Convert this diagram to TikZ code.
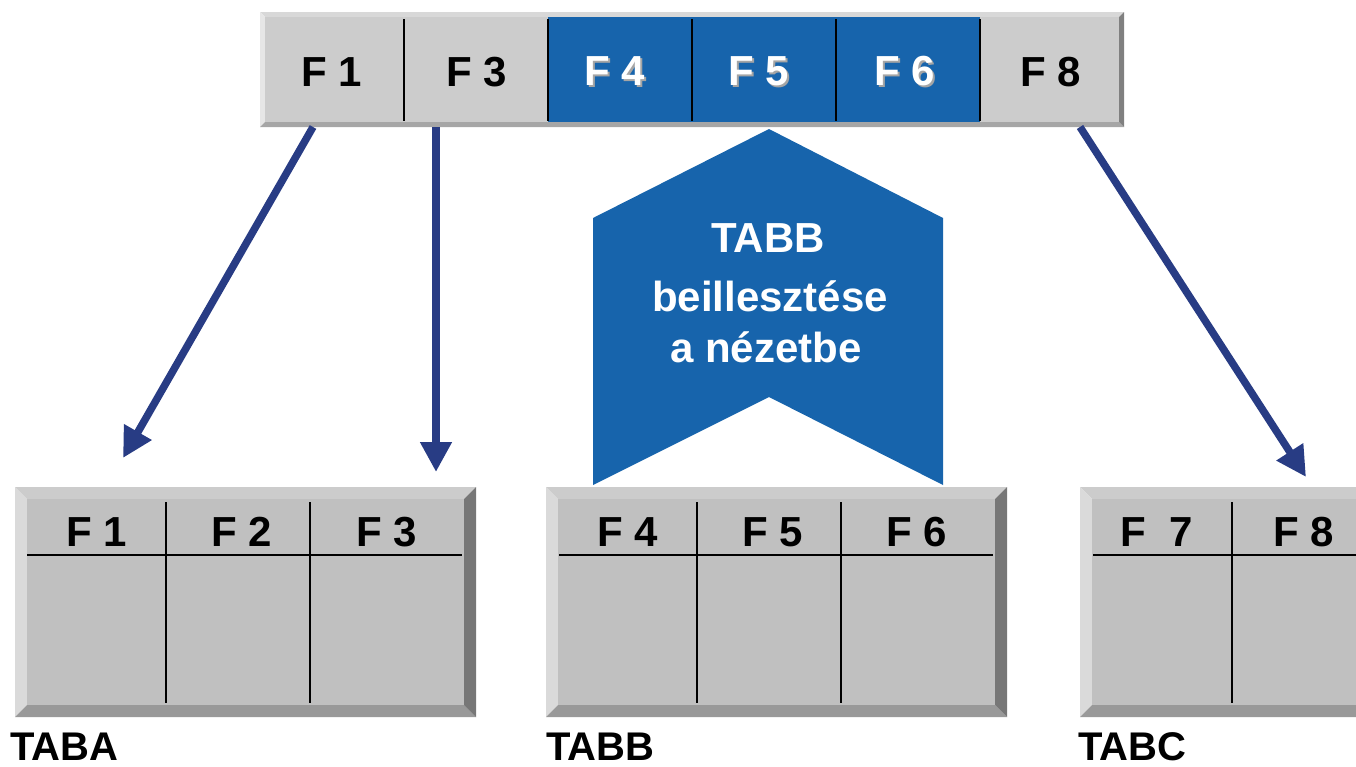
\documentclass[tikz,border=0pt]{standalone}
\usepackage{fontspec}
\setmainfont{Liberation Sans}
\usetikzlibrary{arrows.meta}

\definecolor{tabblue}{RGB}{23,100,172}
\definecolor{arrowblue}{RGB}{40,60,132}
\definecolor{barface}{RGB}{204,204,204}
\definecolor{bartop}{RGB}{216,216,216}
\definecolor{barleft}{RGB}{230,230,230}
\definecolor{barbottom}{RGB}{166,166,166}
\definecolor{barright}{RGB}{128,128,128}
\definecolor{tabface}{RGB}{192,192,192}
\definecolor{tabtop}{RGB}{204,204,204}
\definecolor{tableft}{RGB}{218,218,218}
\definecolor{tabbottom}{RGB}{153,153,153}
\definecolor{tabright}{RGB}{119,119,119}
\definecolor{shadowgray}{RGB}{165,165,165}

% white text with a grey drop shadow
\newcommand{\shadowed}[1]{\rlap{\kern2pt\raisebox{-2pt}{\color{shadowgray}#1}}#1}

% raised box: x1, y1 (top left), x2, y2 (bottom right), bevel, colour prefix
\newcommand{\bevelbox}[6]{%
  \fill[#6top] (#1,#2) -- (#3,#2) -- (#3-#5,#2+#5) -- (#1+#5,#2+#5) -- cycle;
  \fill[#6left] (#1,#2) -- (#1+#5,#2+#5) -- (#1+#5,#4-#5) -- (#1,#4) -- cycle;
  \fill[#6bottom] (#1,#4) -- (#1+#5,#4-#5) -- (#3-#5,#4-#5) -- (#3,#4) -- cycle;
  \fill[#6right] (#3,#2) -- (#3,#4) -- (#3-#5,#4-#5) -- (#3-#5,#2+#5) -- cycle;
  \fill[#6face] (#1+#5,#2+#5) rectangle (#3-#5,#4-#5);
}

\tikzset{
  cell/.style={font=\fontsize{42}{50}\selectfont\bfseries, inner sep=0pt},
  bluecell/.style={cell, text=white},
  inserttext/.style={cell, text=white, anchor=base},
  tabname/.style={font=\fontsize{40}{48}\selectfont\bfseries, inner sep=0pt, anchor=base west},
  tabline/.style={line width=1.3pt},
  feed/.style={line width=7.5pt, draw=arrowblue, -{Triangle[length=30pt,width=30pt]}}
}

\begin{document}
\begin{tikzpicture}[x=1pt, y=-1pt]
  \clip (0,0) rectangle (1356,766);

  % Fields of the view
  \bevelbox{260}{12}{1124}{127}{5}{bar}
  \fill[tabblue] (548,17) rectangle (980,122);
  \foreach \x in {404,548,692,836,980}
    \draw[tabline] (\x,19) -- (\x,121);
  \node[cell] (c1) at (332,72) {F 1};
  \node[cell] (c3) at (477,72) {F 3};
  \node[bluecell] (c4) at (615,72) {\shadowed{F 4}};
  \node[bluecell] (c5) at (759,72) {\shadowed{F 5}};
  \node[bluecell] (c6) at (905,72) {\shadowed{F 6}};
  \node[cell] (c8) at (1051,72) {F 8};

  % Insert arrow
  \fill[tabblue] (769,129) -- (943,218) -- (943,485) -- (769,397)
    -- (593,485) -- (593,218) -- cycle;
  \node[inserttext] (ins1) at (768,252) {TABB};
  \node[inserttext] (ins2) at (770,311) {beillesztése};
  \node[inserttext] (ins3) at (766,362) {a nézetbe};

  % TABA
  \bevelbox{15}{487}{476}{717}{12}{tab}
  \draw[tabline] (27,555) -- (462,555);
  \foreach \x in {166,310}
    \draw[tabline] (\x,502) -- (\x,703);
  \node[cell] (a1) at (97,532) {F 1};
  \node[cell] (a2) at (242,532) {F 2};
  \node[cell] (a3) at (387,532) {F 3};
  \node[tabname] (taba) at (10,760) {TABA};

  % TABB
  \bevelbox{546}{487}{1007}{717}{12}{tab}
  \draw[tabline] (559,555) -- (993,555);
  \foreach \x in {697,841}
    \draw[tabline] (\x,502) -- (\x,703);
  \node[cell] (b4) at (628,532) {F 4};
  \node[cell] (b5) at (773,532) {F 5};
  \node[cell] (b6) at (917,532) {F 6};
  \node[tabname] (tabb) at (546,760) {TABB};

  % TABC
  \bevelbox{1080}{487}{1384}{717}{12}{tab}
  \draw[tabline] (1093,555) -- (1372,555);
  \draw[tabline] (1232,502) -- (1232,703);
  \node[cell] (k7) at (1157,532) {F\ \ 7};
  \node[cell] (k8) at (1304,532) {F 8};
  \node[tabname] (tabc) at (1078,760) {TABC};

  % Arrows
  \coordinate (f1) at (313,127);
  \coordinate (t1) at (123,458);
  \coordinate (f3) at (436,127);
  \coordinate (t3) at (436,472);
  \coordinate (f8) at (1080,127);
  \coordinate (t8) at (1306,477);
  \draw[feed] (f1) -- (t1);
  \draw[feed] (f3) -- (t3);
  \draw[feed] (f8) -- (t8);
\end{tikzpicture}
\end{document}
